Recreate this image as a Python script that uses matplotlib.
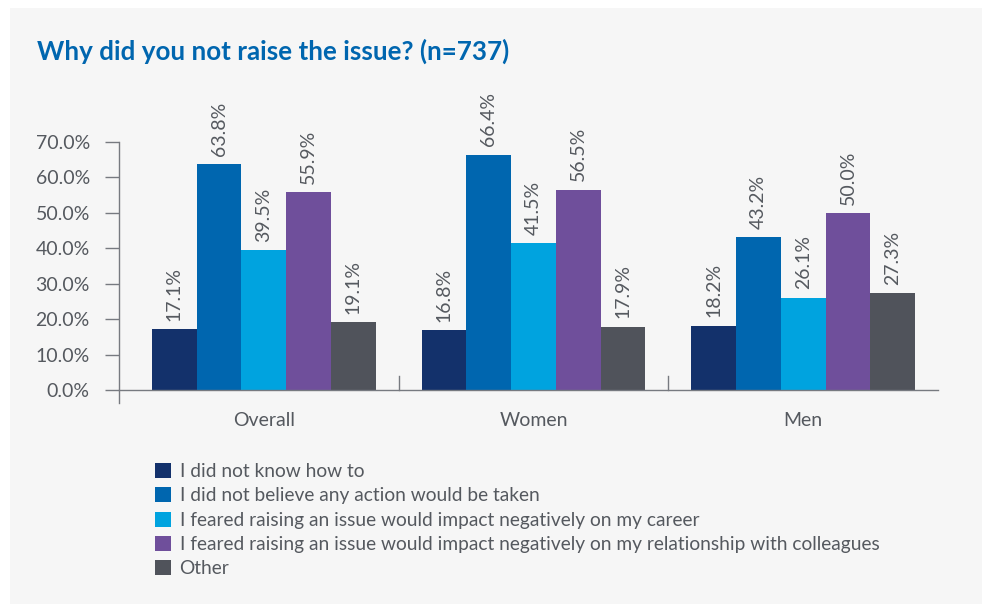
import matplotlib
matplotlib.use("Agg")
import matplotlib.pyplot as plt
from matplotlib.patches import Rectangle
from matplotlib.lines import Line2D
import numpy as np

categories = ["Overall", "Women", "Men"]
series_names = [
    "I did not know how to",
    "I did not believe any action would be taken",
    "I feared raising an issue would impact negatively on my career",
    "I feared raising an issue would impact negatively on my relationship with colleagues",
    "Other",
]
values = [
    [17.1, 16.8, 18.2],
    [63.8, 66.4, 43.2],
    [39.5, 41.5, 26.1],
    [55.9, 56.5, 50.0],
    [19.1, 17.9, 27.3],
]
colors = ["#13316B", "#0066AF", "#00A3DF", "#6F4F9B", "#50535B"]
yticks = [0, 10, 20, 30, 40, 50, 60, 70]
title = "Why did you not raise the issue? (n=737)"

plt.rcParams['font.family'] = ['Lato', 'DejaVu Sans']
txt = "#55595F"
fs = 14

W, H = 982, 605
fig = plt.figure(figsize=(W / 100, H / 100), dpi=100)
fig.patch.set_facecolor("white")
fig.patches.append(Rectangle((10 / W, 1 / H), 1 - 10 / W, 1 - 9 / H,
                             transform=fig.transFigure, facecolor="#F6F6F6",
                             edgecolor="none", zorder=-10))

ax = fig.add_axes([119 / W, 1 - 390 / H, (938 - 119) / W, (390 - 142) / H])
ax.set_facecolor("none")
ax.set_zorder(5)

x = np.arange(len(categories))
bw = 0.166
n = len(values)
handles = []
for i, (vals, c, name) in enumerate(zip(values, colors, series_names)):
    pos = x + (i - (n - 1) / 2) * bw
    b = ax.bar(pos, vals, width=bw, color=c, label=name, zorder=2)
    handles.append(b)
    for p, v in zip(pos, vals):
        ax.annotate(f"{v:.1f}%", (p, v), xytext=(0, 6), textcoords="offset points",
                    rotation=90, ha="center", va="bottom", fontsize=fs, color=txt)

ax.set_xlim(-0.5 - 10 / 270, 2.5)
ax.set_ylim(0, 70)
ax.set_yticks(yticks)
ax.set_yticklabels([f"{t:.1f}%" for t in yticks])
ax.tick_params(axis="y", length=10, width=1, color="#777A80", pad=11, labelsize=fs, labelcolor=txt)
ax.set_xticks(x)
ax.set_xticklabels(categories)
ax.tick_params(axis="x", length=0, pad=16, labelsize=fs, labelcolor=txt)

for s in ["top", "right", "left"]:
    ax.spines[s].set_visible(False)
ax.spines["bottom"].set_color("#777A80")
ax.spines["bottom"].set_linewidth(1)

# left axis line extending below zero
ax.add_line(Line2D([0, 0], [-13 / 248, 1], transform=ax.transAxes, color="#777A80",
                   lw=1, clip_on=False))
# category separators
for sep in [0.5, 1.5]:
    ax.plot([sep, sep], [0, 4], color="#777A80", lw=1, clip_on=False)

fig.text(37 / W, 1 - 51 / H, title, color="#0066AF", fontsize=18.7, fontweight="bold",
         va="center", ha="left")

fig.legend(handles=handles, labels=series_names, loc="upper left",
           bbox_to_anchor=(155 / W, 1 - 463 / H), frameon=False, fontsize=13.8,
           handlelength=0.83, handleheight=0.83, handletextpad=0.45, labelspacing=0.37,
           labelcolor=txt, borderaxespad=0, borderpad=0)

fig.savefig("out.png", dpi=100)
